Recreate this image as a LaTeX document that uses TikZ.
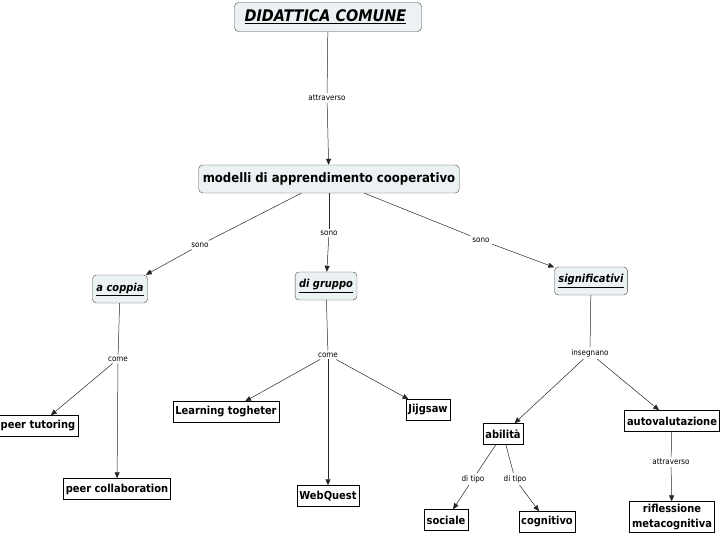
\documentclass[tikz,border=0pt]{standalone}
\usepackage{fontspec}
\setmainfont{DejaVu Sans Condensed}
\usetikzlibrary{arrows.meta}
\definecolor{fondo}{RGB}{236,242,244}
\definecolor{bordo}{RGB}{70,70,70}
\begin{document}
\begin{tikzpicture}[x=1pt,y=-1pt,
    conc/.style={draw=bordo,fill=fondo,rounded corners=4pt,inner sep=4pt,
      minimum height=28pt,font=\bfseries\fontsize{11}{13}\selectfont},
    foglia/.style={draw=black,fill=white,inner sep=2.5pt,minimum height=21pt,
      font=\bfseries\fontsize{11}{13}\selectfont},
    rel/.style={inner sep=2pt,font=\fontsize{8}{9}\selectfont},
    arco/.style={draw=black!85,line width=0.5pt},
    freccia/.style={arco,-{Triangle[length=6pt,width=5pt]}}]
  \useasboundingbox (0,0) rectangle (720,540);

  % ---- concetti -------------------------------------------------------------
  \node[conc,minimum width=187pt,minimum height=29pt,
        font=\bfseries\itshape\fontsize{16}{18}\selectfont]
                                   (dc)  at (328,17)  {\underline{DIDATTICA COMUNE}\ \ };
  \node[conc,font=\bfseries\fontsize{13}{15}\selectfont]
                                   (mod) at (329,179) {modelli di apprendimento cooperativo};
  \node[conc,font=\bfseries\itshape\fontsize{11}{13}\selectfont]
                                   (cop) at (120,289) {\underline{a coppia}};
  \node[conc,font=\bfseries\itshape\fontsize{11}{13}\selectfont]
                                   (gru) at (326,286) {\underline{di gruppo}};
  \node[conc,font=\bfseries\itshape\fontsize{11}{13}\selectfont]
                                   (sig) at (591,281) {\underline{significativi}};

  % ---- foglie ---------------------------------------------------------------
  \node[foglia] (tut) at (38,426)  {peer tutoring};
  \node[foglia] (col) at (117,489) {peer collaboration};
  \node[foglia] (lt)  at (226,412) {Learning togheter};
  \node[foglia] (wq)  at (328,496) {WebQuest};
  \node[foglia] (jig) at (428,410) {Jijgsaw};
  \node[foglia] (abi) at (503,434) {abilità};
  \node[foglia] (aut) at (672,421) {autovalutazione};
  \node[foglia] (soc) at (446,520) {sociale};
  \node[foglia] (cog) at (547,522) {cognitivo};
  \node[foglia,align=center,font=\bfseries\fontsize{11}{15}\selectfont]
                (rif) at (672,517) {riflessione\\metacognitiva};

  % ---- relazioni ------------------------------------------------------------
  \node[rel] (r1)  at (327,98)  {attraverso};
  \node[rel] (r2)  at (200,245) {sono};
  \node[rel] (r3)  at (329,233) {sono};
  \node[rel] (r4)  at (481,240) {sono};
  \node[rel] (r5)  at (118,359) {come};
  \node[rel] (r6)  at (328,355) {come};
  \node[rel] (r7)  at (590,353) {insegnano};
  \node[rel] (r8)  at (473,479) {di tipo};
  \node[rel] (r9)  at (515,479) {di tipo};
  \node[rel] (r10) at (671,462) {attraverso};

  % ---- archi ----------------------------------------------------------------
  \draw[arco] (dc) -- (r1);   \draw[freccia] (r1) -- (mod);
  \draw[arco] (mod) -- (r2);  \draw[freccia] (r2) -- (cop);
  \draw[arco] (mod) -- (r3);  \draw[freccia] (r3) -- (gru);
  \draw[arco] (mod) -- (r4);  \draw[freccia] (r4) -- (sig);
  \draw[arco] (cop) -- (r5);
  \draw[freccia] (r5) -- (tut);
  \draw[freccia] (r5) -- (col);
  \draw[arco] (gru) -- (r6);
  \draw[freccia] (r6) -- (lt);
  \draw[freccia] (r6) -- (wq);
  \draw[freccia] (r6) -- (jig);
  \draw[arco] (sig) -- (r7);
  \draw[freccia] (r7) -- (abi);
  \draw[freccia] (r7) -- (aut);
  \draw[arco] (abi) -- (r8);  \draw[freccia] (r8) -- (soc);
  \draw[arco] (abi) -- (r9);  \draw[freccia] (r9) -- (cog);
  \draw[arco] (aut) -- (r10); \draw[freccia] (r10) -- (rif);
\end{tikzpicture}
\end{document}
